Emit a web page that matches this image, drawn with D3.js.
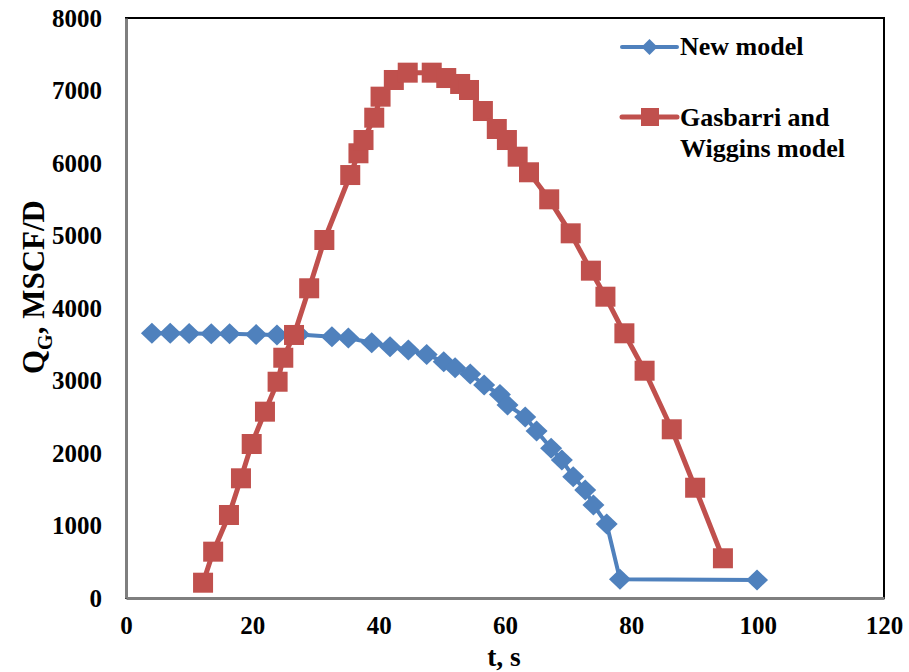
<!DOCTYPE html>
<html>
<head>
<meta charset="utf-8">
<script src="https://cdn.jsdelivr.net/npm/d3@7/dist/d3.min.js"></script>
<style>
  html, body { margin: 0; padding: 0; background: #fff; }
  svg { display: block; }
  text { font-family: "Liberation Serif", "Times New Roman", serif; font-weight: bold; fill: #000; }
</style>
</head>
<body>
<svg id="chart" width="909" height="672"></svg>
<script>
// Gas rate vs time for two models
const newModelT = [4.1, 7.0, 10.0, 13.5, 16.4, 20.6, 23.9, 27.4, 32.6, 35.2, 38.9, 41.8, 44.7, 47.6, 50.3, 52.1, 54.5, 56.7, 59.2, 60.4, 63.2, 65.0, 67.3, 69.0, 70.8, 72.7, 74.0, 76.1, 78.2, 99.9];
const newModelQ = [3651, 3651, 3648, 3645, 3645, 3634, 3628, 3634, 3604, 3586, 3521, 3466, 3421, 3359, 3259, 3177, 3090, 2938, 2807, 2662, 2497, 2303, 2065, 1903, 1673, 1490, 1283, 1021, 258, 248];

const gwModelT = [12.2, 13.8, 16.3, 18.2, 19.9, 22.0, 24.0, 24.9, 26.6, 29.0, 31.4, 35.5, 36.8, 37.6, 39.3, 40.3, 42.4, 44.6, 48.4, 50.7, 52.9, 54.3, 56.5, 58.7, 60.3, 62.0, 63.8, 67.0, 70.4, 73.6, 75.9, 78.9, 82.1, 86.4, 90.1, 94.5];
const gwModelQ = [211, 639, 1145, 1651, 2124, 2570, 2983, 3314, 3628, 4272, 4938, 5834, 6134, 6317, 6625, 6915, 7145, 7246, 7246, 7172, 7090, 7007, 6717, 6469, 6317, 6087, 5872, 5499, 5030, 4515, 4156, 3651, 3135, 2327, 1521, 548];

const xTicks = [0, 20, 40, 60, 80, 100, 120];
const yTicks = [0, 1000, 2000, 3000, 4000, 5000, 6000, 7000, 8000];

const seriesNames = ["New model", "Gasbarri and\nWiggins model"];
const seriesColors = ["#4F81BD", "#C0504D"];

const svg = d3.select("#chart");
const plotL = 126, plotR = 884, plotT = 18, plotB = 598;

const x = d3.scaleLinear().domain([0, 120]).range([plotL, plotR]);
const y = d3.scaleLinear().domain([0, 8000]).range([plotB, plotT]);

// plot frame
svg.append("rect")
  .attr("x", plotL).attr("y", plotT)
  .attr("width", plotR - plotL).attr("height", plotB - plotT)
  .attr("fill", "none").attr("stroke", "#000").attr("stroke-width", 2);

// axes (labels only, no tick marks)
const xAxis = svg.append("g")
  .attr("transform", `translate(0,${plotB})`)
  .call(d3.axisBottom(x).tickValues(xTicks).tickSize(0).tickPadding(18));
xAxis.select(".domain").attr("stroke", "#7f7f7f").attr("stroke-width", 3);
xAxis.selectAll("text").style("font-size", "25px").attr("fill", "#000");

const yAxis = svg.append("g")
  .attr("transform", `translate(${plotL},0)`)
  .call(d3.axisLeft(y).tickValues(yTicks).tickSize(0).tickPadding(24).tickFormat(d3.format("d")));
yAxis.select(".domain").attr("stroke", "#7f7f7f").attr("stroke-width", 3);
yAxis.selectAll("text").style("font-size", "25px").attr("fill", "#000");

// axis titles
svg.append("text")
  .attr("x", 504).attr("y", 665.5)
  .attr("text-anchor", "middle")
  .style("font-size", "27.5px")
  .text("t, s");

const yTitle = svg.append("text")
  .attr("transform", "translate(44,287) rotate(-90)")
  .attr("text-anchor", "middle")
  .style("font-size", "31px");
yTitle.append("tspan").text("Q");
yTitle.append("tspan").attr("dy", 8).style("font-size", "20px").text("G");
yTitle.append("tspan").attr("dy", -8).text(", MSCF/D");

const line = d3.line().x(d => x(d[0])).y(d => y(d[1]));
const newData = newModelT.map((t, i) => [t, newModelQ[i]]);
const gwData = gwModelT.map((t, i) => [t, gwModelQ[i]]);

// New model series
svg.append("path").datum(newData)
  .attr("d", line).attr("fill", "none")
  .attr("stroke", seriesColors[0]).attr("stroke-width", 4)
  .attr("stroke-linejoin", "round");
svg.append("g").selectAll("path").data(newData).join("path")
  .attr("transform", d => `translate(${x(d[0])},${y(d[1])})`)
  .attr("d", "M0,-10.5L11,0L0,10.5L-11,0Z")
  .attr("fill", seriesColors[0]);

// Gasbarri and Wiggins series
svg.append("path").datum(gwData)
  .attr("d", line).attr("fill", "none")
  .attr("stroke", seriesColors[1]).attr("stroke-width", 5)
  .attr("stroke-linejoin", "round");
svg.append("g").selectAll("rect").data(gwData).join("rect")
  .attr("x", d => x(d[0]) - 10).attr("y", d => y(d[1]) - 10)
  .attr("width", 20).attr("height", 20)
  .attr("fill", seriesColors[1]);

// legend
const lg = svg.append("g");
lg.append("line").attr("x1", 622).attr("x2", 677).attr("y1", 47).attr("y2", 47)
  .attr("stroke", seriesColors[0]).attr("stroke-width", 4).attr("stroke-linecap", "round");
lg.append("path").attr("transform", "translate(649.5,47)")
  .attr("d", "M0,-8L8,0L0,8L-8,0Z").attr("fill", seriesColors[0]);
lg.append("text").attr("x", 680).attr("y", 55).style("font-size", "26px").text(seriesNames[0]);

lg.append("line").attr("x1", 622).attr("x2", 677).attr("y1", 117).attr("y2", 117)
  .attr("stroke", seriesColors[1]).attr("stroke-width", 5).attr("stroke-linecap", "round");
lg.append("rect").attr("x", 641).attr("y", 108).attr("width", 18).attr("height", 18)
  .attr("fill", seriesColors[1]);
const lgText = lg.append("text").attr("x", 680).attr("y", 126).style("font-size", "26px");
seriesNames[1].split("\n").forEach((s, i) => {
  lgText.append("tspan").attr("x", 680).attr("dy", i === 0 ? 0 : 31).text(s);
});
</script>
</body>
</html>
